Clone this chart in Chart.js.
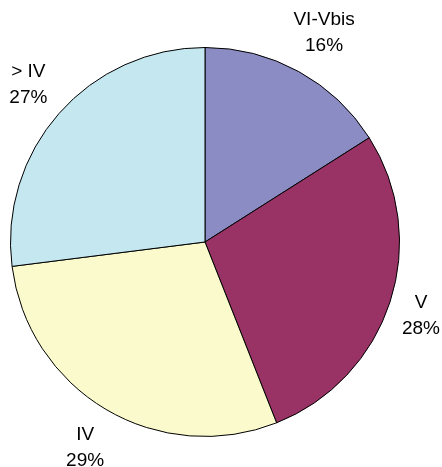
<!DOCTYPE html>
<html>
<head>
<meta charset="utf-8">
<script src="https://cdn.jsdelivr.net/npm/chart.js@4"></script>
<style>
  html, body { margin: 0; padding: 0; background: #fff; }
  #wrap { width: 442px; height: 467px; }
</style>
</head>
<body>
<div id="wrap"><canvas id="pie"></canvas></div>
<script>
// data
const categories = ['VI-Vbis', 'V', 'IV', '> IV'];
const shares = [16, 28, 29, 27];
const sliceColors = ['#8C8CC4', '#993366', '#FAFACC', '#C4E7F0'];

// "name / xx%" placed outside each slice; the text box leans away from the pie
const outsideLabels = {
  id: 'outsideLabels',
  afterDatasetsDraw(chart) {
    const { ctx, width } = chart;
    const meta = chart.getDatasetMeta(0);
    const lineGap = 26, boxH = 44;
    ctx.save();
    ctx.fillStyle = '#000';
    ctx.font = '19px "Liberation Sans", Arial, sans-serif';
    ctx.textAlign = 'center';
    ctx.textBaseline = 'middle';
    meta.data.forEach((arc, i) => {
      const lines = [categories[i], shares[i] + '%'];
      const boxW = Math.max(...lines.map(t => ctx.measureText(t).width));
      const mid = (arc.startAngle + arc.endAngle) / 2;
      const r = arc.outerRadius + 22;
      let x = arc.x + Math.cos(mid) * r + Math.cos(mid) * boxW / 2;
      const y = arc.y + Math.sin(mid) * r + Math.sin(mid) * boxH / 2;
      x = Math.min(Math.max(x, boxW / 2 + 2), width - boxW / 2 - 2);
      ctx.fillText(lines[0], x, y - lineGap / 2);
      ctx.fillText(lines[1], x, y + lineGap / 2);
    });
    ctx.restore();
  }
};

new Chart(document.getElementById('pie'), {
  type: 'pie',
  data: {
    labels: categories,
    datasets: [{
      data: shares,
      backgroundColor: sliceColors,
      borderColor: '#000',
      borderWidth: 1
    }]
  },
  options: {
    responsive: true, maintainAspectRatio: false,
    animation: false,
    layout: { padding: { left: 10, right: 42, top: 47, bottom: 30 } },
    plugins: { legend: { display: false }, tooltip: { enabled: false } }
  },
  plugins: [outsideLabels]
});
</script>
</body>
</html>
